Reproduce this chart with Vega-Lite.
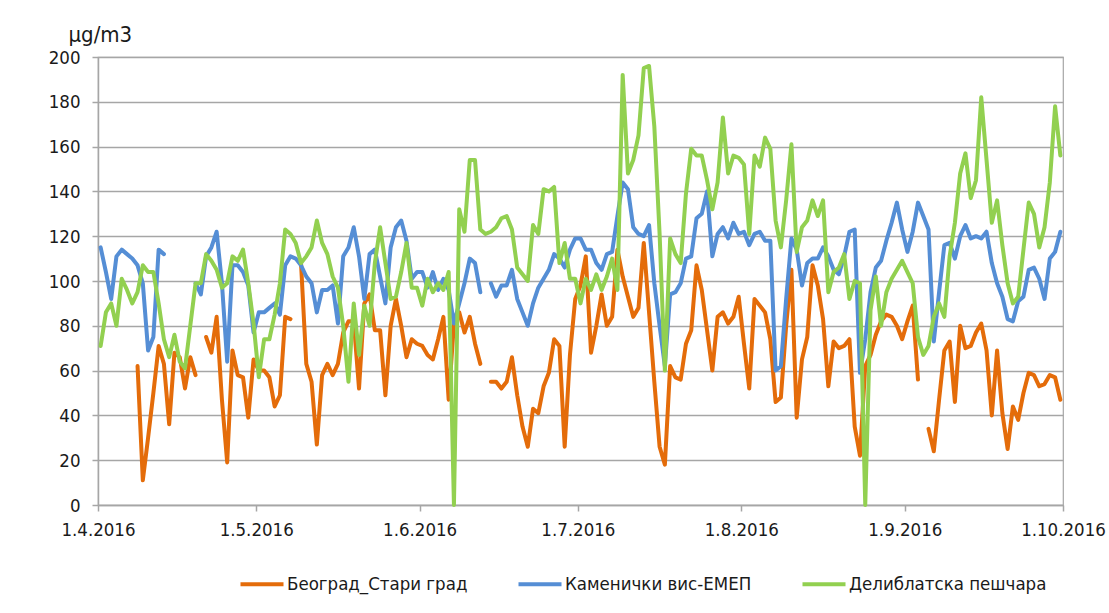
{
  "$schema": "https://vega.github.io/schema/vega-lite/v6.json",
  "autosize": "none",
  "width": 965,
  "height": 448,
  "padding": {"left": 98, "top": 57, "right": 46, "bottom": 108},
  "background": "white",
  "config": {
    "font": "DejaVu Sans Condensed, sans-serif",
    "view": {"stroke": "#A6A6A6", "strokeWidth": 1.2},
    "axis": {"labelColor": "#1a1a1a", "titleColor": "#1a1a1a", "labelFontSize": 18.5, "titleFontWeight": "normal"},
    "legend": {"labelColor": "#1a1a1a", "labelFontSize": 18.5, "labelLimit": 0}
  },
  "data": {"values": [
{"date":"2016-04-01T12:00","o":null,"b":115,"g":71},
{"date":"2016-04-02T12:00","o":null,"b":104,"g":86},
{"date":"2016-04-03T12:00","o":null,"b":92,"g":90},
{"date":"2016-04-04T12:00","o":null,"b":111,"g":80},
{"date":"2016-04-05T12:00","o":null,"b":114,"g":101},
{"date":"2016-04-06T12:00","o":null,"b":112,"g":96},
{"date":"2016-04-07T12:00","o":null,"b":110,"g":90},
{"date":"2016-04-08T12:00","o":62,"b":107,"g":95},
{"date":"2016-04-09T12:00","o":11,"b":99,"g":107},
{"date":"2016-04-10T12:00","o":30,"b":69,"g":104},
{"date":"2016-04-11T12:00","o":50,"b":75,"g":104},
{"date":"2016-04-12T12:00","o":71,"b":114,"g":90},
{"date":"2016-04-13T12:00","o":63,"b":112,"g":74},
{"date":"2016-04-14T12:00","o":36,"b":null,"g":66},
{"date":"2016-04-15T12:00","o":68,"b":null,"g":76},
{"date":"2016-04-16T12:00","o":66,"b":null,"g":64},
{"date":"2016-04-17T12:00","o":52,"b":null,"g":61},
{"date":"2016-04-18T12:00","o":66,"b":null,"g":80},
{"date":"2016-04-19T12:00","o":58,"b":99,"g":99},
{"date":"2016-04-20T12:00","o":null,"b":94,"g":99},
{"date":"2016-04-21T12:00","o":75,"b":111,"g":112},
{"date":"2016-04-22T12:00","o":68,"b":115,"g":109},
{"date":"2016-04-23T12:00","o":84,"b":122,"g":105},
{"date":"2016-04-24T12:00","o":47,"b":99,"g":97},
{"date":"2016-04-25T12:00","o":19,"b":64,"g":99},
{"date":"2016-04-26T12:00","o":69,"b":107,"g":111},
{"date":"2016-04-27T12:00","o":58,"b":107,"g":109},
{"date":"2016-04-28T12:00","o":57,"b":104,"g":114},
{"date":"2016-04-29T12:00","o":39,"b":98,"g":99},
{"date":"2016-04-30T12:00","o":65,"b":77,"g":81},
{"date":"2016-05-01T12:00","o":60,"b":86,"g":57},
{"date":"2016-05-02T12:00","o":60,"b":86,"g":74},
{"date":"2016-05-03T12:00","o":57,"b":88,"g":74},
{"date":"2016-05-04T12:00","o":44,"b":90,"g":85},
{"date":"2016-05-05T12:00","o":49,"b":85,"g":99},
{"date":"2016-05-06T12:00","o":84,"b":107,"g":123},
{"date":"2016-05-07T12:00","o":83,"b":111,"g":121},
{"date":"2016-05-08T12:00","o":null,"b":110,"g":117},
{"date":"2016-05-09T12:00","o":108,"b":107,"g":108},
{"date":"2016-05-10T12:00","o":63,"b":102,"g":111},
{"date":"2016-05-11T12:00","o":55,"b":99,"g":115},
{"date":"2016-05-12T12:00","o":27,"b":86,"g":127},
{"date":"2016-05-13T12:00","o":58,"b":96,"g":117},
{"date":"2016-05-14T12:00","o":63,"b":96,"g":112},
{"date":"2016-05-15T12:00","o":58,"b":98,"g":102},
{"date":"2016-05-16T12:00","o":63,"b":81,"g":97},
{"date":"2016-05-17T12:00","o":77,"b":111,"g":80},
{"date":"2016-05-18T12:00","o":82,"b":115,"g":55},
{"date":"2016-05-19T12:00","o":82,"b":124,"g":90},
{"date":"2016-05-20T12:00","o":52,"b":111,"g":67},
{"date":"2016-05-21T12:00","o":90,"b":92,"g":89},
{"date":"2016-05-22T12:00","o":94,"b":112,"g":80},
{"date":"2016-05-23T12:00","o":78,"b":114,"g":108},
{"date":"2016-05-24T12:00","o":78,"b":102,"g":124},
{"date":"2016-05-25T12:00","o":49,"b":90,"g":108},
{"date":"2016-05-26T12:00","o":80,"b":115,"g":92},
{"date":"2016-05-27T12:00","o":92,"b":124,"g":93},
{"date":"2016-05-28T12:00","o":80,"b":127,"g":104},
{"date":"2016-05-29T12:00","o":66,"b":118,"g":117},
{"date":"2016-05-30T12:00","o":74,"b":101,"g":97},
{"date":"2016-05-31T12:00","o":72,"b":104,"g":97},
{"date":"2016-06-01T12:00","o":71,"b":104,"g":89},
{"date":"2016-06-02T12:00","o":67,"b":97,"g":101},
{"date":"2016-06-03T12:00","o":65,"b":104,"g":95},
{"date":"2016-06-04T12:00","o":74,"b":96,"g":99},
{"date":"2016-06-05T12:00","o":84,"b":101,"g":96},
{"date":"2016-06-06T12:00","o":47,"b":96,"g":104},
{"date":"2016-06-07T12:00","o":81,"b":81,"g":0},
{"date":"2016-06-08T12:00","o":86,"b":90,"g":132},
{"date":"2016-06-09T12:00","o":77,"b":99,"g":122},
{"date":"2016-06-10T12:00","o":84,"b":110,"g":154},
{"date":"2016-06-11T12:00","o":72,"b":108,"g":154},
{"date":"2016-06-12T12:00","o":63,"b":95,"g":123},
{"date":"2016-06-13T12:00","o":null,"b":null,"g":121},
{"date":"2016-06-14T12:00","o":55,"b":99,"g":122},
{"date":"2016-06-15T12:00","o":55,"b":93,"g":124},
{"date":"2016-06-16T12:00","o":52,"b":98,"g":128},
{"date":"2016-06-17T12:00","o":55,"b":98,"g":129},
{"date":"2016-06-18T12:00","o":66,"b":105,"g":123},
{"date":"2016-06-19T12:00","o":49,"b":92,"g":106},
{"date":"2016-06-20T12:00","o":35,"b":86,"g":103},
{"date":"2016-06-21T12:00","o":26,"b":80,"g":100},
{"date":"2016-06-22T12:00","o":43,"b":90,"g":125},
{"date":"2016-06-23T12:00","o":41,"b":97,"g":121},
{"date":"2016-06-24T12:00","o":53,"b":101,"g":141},
{"date":"2016-06-25T12:00","o":59,"b":105,"g":140},
{"date":"2016-06-26T12:00","o":74,"b":112,"g":142},
{"date":"2016-06-27T12:00","o":71,"b":110,"g":108},
{"date":"2016-06-28T12:00","o":26,"b":106,"g":117},
{"date":"2016-06-29T12:00","o":67,"b":114,"g":101},
{"date":"2016-06-30T12:00","o":92,"b":119,"g":101},
{"date":"2016-07-01T12:00","o":98,"b":119,"g":90},
{"date":"2016-07-02T12:00","o":111,"b":114,"g":101},
{"date":"2016-07-03T12:00","o":68,"b":114,"g":96},
{"date":"2016-07-04T12:00","o":80,"b":108,"g":103},
{"date":"2016-07-05T12:00","o":94,"b":105,"g":96},
{"date":"2016-07-06T12:00","o":80,"b":112,"g":102},
{"date":"2016-07-07T12:00","o":84,"b":113,"g":110},
{"date":"2016-07-08T12:00","o":114,"b":129,"g":96},
{"date":"2016-07-09T12:00","o":102,"b":144,"g":192},
{"date":"2016-07-10T12:00","o":93,"b":141,"g":148},
{"date":"2016-07-11T12:00","o":84,"b":124,"g":154},
{"date":"2016-07-12T12:00","o":88,"b":121,"g":165},
{"date":"2016-07-13T12:00","o":117,"b":120,"g":195},
{"date":"2016-07-14T12:00","o":86,"b":125,"g":196},
{"date":"2016-07-15T12:00","o":55,"b":99,"g":169},
{"date":"2016-07-16T12:00","o":26,"b":80,"g":121},
{"date":"2016-07-17T12:00","o":18,"b":62,"g":60},
{"date":"2016-07-18T12:00","o":62,"b":94,"g":119},
{"date":"2016-07-19T12:00","o":57,"b":95,"g":112},
{"date":"2016-07-20T12:00","o":56,"b":99,"g":108},
{"date":"2016-07-21T12:00","o":72,"b":110,"g":139},
{"date":"2016-07-22T12:00","o":78,"b":111,"g":159},
{"date":"2016-07-23T12:00","o":107,"b":128,"g":156},
{"date":"2016-07-24T12:00","o":96,"b":130,"g":156},
{"date":"2016-07-25T12:00","o":78,"b":140,"g":145},
{"date":"2016-07-26T12:00","o":60,"b":111,"g":132},
{"date":"2016-07-27T12:00","o":84,"b":121,"g":144},
{"date":"2016-07-28T12:00","o":86,"b":124,"g":173},
{"date":"2016-07-29T12:00","o":81,"b":119,"g":148},
{"date":"2016-07-30T12:00","o":84,"b":126,"g":156},
{"date":"2016-07-31T12:00","o":93,"b":121,"g":155},
{"date":"2016-08-01T12:00","o":72,"b":122,"g":152},
{"date":"2016-08-02T12:00","o":52,"b":116,"g":121},
{"date":"2016-08-03T12:00","o":92,"b":121,"g":156},
{"date":"2016-08-04T12:00","o":89,"b":122,"g":151},
{"date":"2016-08-05T12:00","o":86,"b":118,"g":164},
{"date":"2016-08-06T12:00","o":74,"b":118,"g":159},
{"date":"2016-08-07T12:00","o":46,"b":60,"g":127},
{"date":"2016-08-08T12:00","o":48,"b":62,"g":115},
{"date":"2016-08-09T12:00","o":80,"b":92,"g":136},
{"date":"2016-08-10T12:00","o":105,"b":119,"g":161},
{"date":"2016-08-11T12:00","o":39,"b":114,"g":113},
{"date":"2016-08-12T12:00","o":65,"b":98,"g":124},
{"date":"2016-08-13T12:00","o":75,"b":108,"g":127},
{"date":"2016-08-14T12:00","o":107,"b":110,"g":136},
{"date":"2016-08-15T12:00","o":98,"b":110,"g":129},
{"date":"2016-08-16T12:00","o":83,"b":115,"g":136},
{"date":"2016-08-17T12:00","o":53,"b":111,"g":95},
{"date":"2016-08-18T12:00","o":73,"b":105,"g":104},
{"date":"2016-08-19T12:00","o":70,"b":103,"g":106},
{"date":"2016-08-20T12:00","o":71,"b":111,"g":112},
{"date":"2016-08-21T12:00","o":74,"b":122,"g":92},
{"date":"2016-08-22T12:00","o":35,"b":123,"g":100},
{"date":"2016-08-23T12:00","o":22,"b":59,"g":99},
{"date":"2016-08-24T12:00","o":62,"b":74,"g":0},
{"date":"2016-08-25T12:00","o":67,"b":95,"g":87},
{"date":"2016-08-26T12:00","o":76,"b":106,"g":102},
{"date":"2016-08-27T12:00","o":82,"b":109,"g":80},
{"date":"2016-08-28T12:00","o":85,"b":118,"g":95},
{"date":"2016-08-29T12:00","o":84,"b":126,"g":101},
{"date":"2016-08-30T12:00","o":80,"b":135,"g":105},
{"date":"2016-08-31T12:00","o":74,"b":123,"g":109},
{"date":"2016-09-01T12:00","o":82,"b":113,"g":104},
{"date":"2016-09-02T12:00","o":89,"b":122,"g":99},
{"date":"2016-09-03T12:00","o":56,"b":135,"g":75},
{"date":"2016-09-04T12:00","o":null,"b":129,"g":67},
{"date":"2016-09-05T12:00","o":34,"b":123,"g":71},
{"date":"2016-09-06T12:00","o":24,"b":73,"g":84},
{"date":"2016-09-07T12:00","o":47,"b":95,"g":90},
{"date":"2016-09-08T12:00","o":69,"b":116,"g":84},
{"date":"2016-09-09T12:00","o":73,"b":117,"g":111},
{"date":"2016-09-10T12:00","o":46,"b":110,"g":126},
{"date":"2016-09-11T12:00","o":80,"b":120,"g":148},
{"date":"2016-09-12T12:00","o":70,"b":125,"g":157},
{"date":"2016-09-13T12:00","o":71,"b":119,"g":137},
{"date":"2016-09-14T12:00","o":77,"b":120,"g":145},
{"date":"2016-09-15T12:00","o":81,"b":119,"g":182},
{"date":"2016-09-16T12:00","o":69,"b":122,"g":154},
{"date":"2016-09-17T12:00","o":40,"b":108,"g":126},
{"date":"2016-09-18T12:00","o":69,"b":99,"g":136},
{"date":"2016-09-19T12:00","o":41,"b":93,"g":116},
{"date":"2016-09-20T12:00","o":25,"b":83,"g":99},
{"date":"2016-09-21T12:00","o":44,"b":82,"g":90},
{"date":"2016-09-22T12:00","o":38,"b":91,"g":93},
{"date":"2016-09-23T12:00","o":50,"b":93,"g":114},
{"date":"2016-09-24T12:00","o":59,"b":105,"g":135},
{"date":"2016-09-25T12:00","o":58,"b":106,"g":130},
{"date":"2016-09-26T12:00","o":53,"b":101,"g":115},
{"date":"2016-09-27T12:00","o":54,"b":92,"g":124},
{"date":"2016-09-28T12:00","o":58,"b":110,"g":144},
{"date":"2016-09-29T12:00","o":57,"b":113,"g":178},
{"date":"2016-09-30T12:00","o":47,"b":122,"g":156}
  ]},
  "transform": [{"fold": ["o", "b", "g"], "as": ["k", "v"]}],
  "encoding": {
    "x": {
      "field": "date", "type": "temporal",
      "scale": {"domain": [{"year": 2016, "month": 4, "date": 1}, {"year": 2016, "month": 10, "date": 1}]},
      "axis": {
        "title": null, "grid": false, "format": "%-d.%-m.%Y",
        "values": [{"year": 2016, "month": 4, "date": 1}, {"year": 2016, "month": 5, "date": 1}, {"year": 2016, "month": 6, "date": 1}, {"year": 2016, "month": 7, "date": 1}, {"year": 2016, "month": 8, "date": 1}, {"year": 2016, "month": 9, "date": 1}, {"year": 2016, "month": 10, "date": 1}],
        "domainColor": "#A6A6A6", "domainWidth": 1.5, "tickColor": "#A6A6A6", "tickWidth": 1.5, "tickSize": 6,
        "labelPadding": 9, "labelFlush": false, "labelOverlap": false
      }
    },
    "y": {
      "field": "v", "type": "quantitative",
      "scale": {"domain": [0, 200], "nice": false},
      "axis": {
        "title": "µg/m3", "titleAngle": 0, "titleAlign": "left", "titleBaseline": "alphabetic",
        "titleX": -30, "titleY": -16, "titleFontSize": 22,
        "values": [0, 20, 40, 60, 80, 100, 120, 140, 160, 180, 200],
        "gridColor": "#A6A6A6", "gridWidth": 1.5,
        "domainColor": "#A6A6A6", "domainWidth": 1.5, "tickColor": "#A6A6A6", "tickWidth": 1.5, "tickSize": 6,
        "labelPadding": 12
      }
    },
    "color": {
      "field": "k", "type": "nominal",
      "scale": {"domain": ["o", "b", "g"], "range": ["#E46C0A", "#558ED5", "#92D050"]},
      "legend": {
        "title": null, "orient": "none", "direction": "horizontal",
        "legendX": 140, "legendY": 503,
        "symbolType": "stroke", "symbolSize": 1850, "symbolStrokeWidth": 4,
        "labelOffset": 1, "columnPadding": 42,
        "labelExpr": "datum.value == 'o' ? 'Београд_Стари град' : datum.value == 'b' ? 'Каменички вис-ЕМЕП' : 'Делиблатска пешчара'"
      }
    }
  },
  "layer": [
    {"transform": [{"filter": "datum.k == 'o'"}], "mark": {"type": "line", "strokeWidth": 4, "strokeJoin": "round", "strokeCap": "round", "invalid": "break-paths-show-domains"}},
    {"transform": [{"filter": "datum.k == 'b'"}], "mark": {"type": "line", "strokeWidth": 4, "strokeJoin": "round", "strokeCap": "round", "invalid": "break-paths-show-domains"}},
    {"transform": [{"filter": "datum.k == 'g'"}], "mark": {"type": "line", "strokeWidth": 4, "strokeJoin": "round", "strokeCap": "round", "invalid": "break-paths-show-domains"}}
  ]
}
